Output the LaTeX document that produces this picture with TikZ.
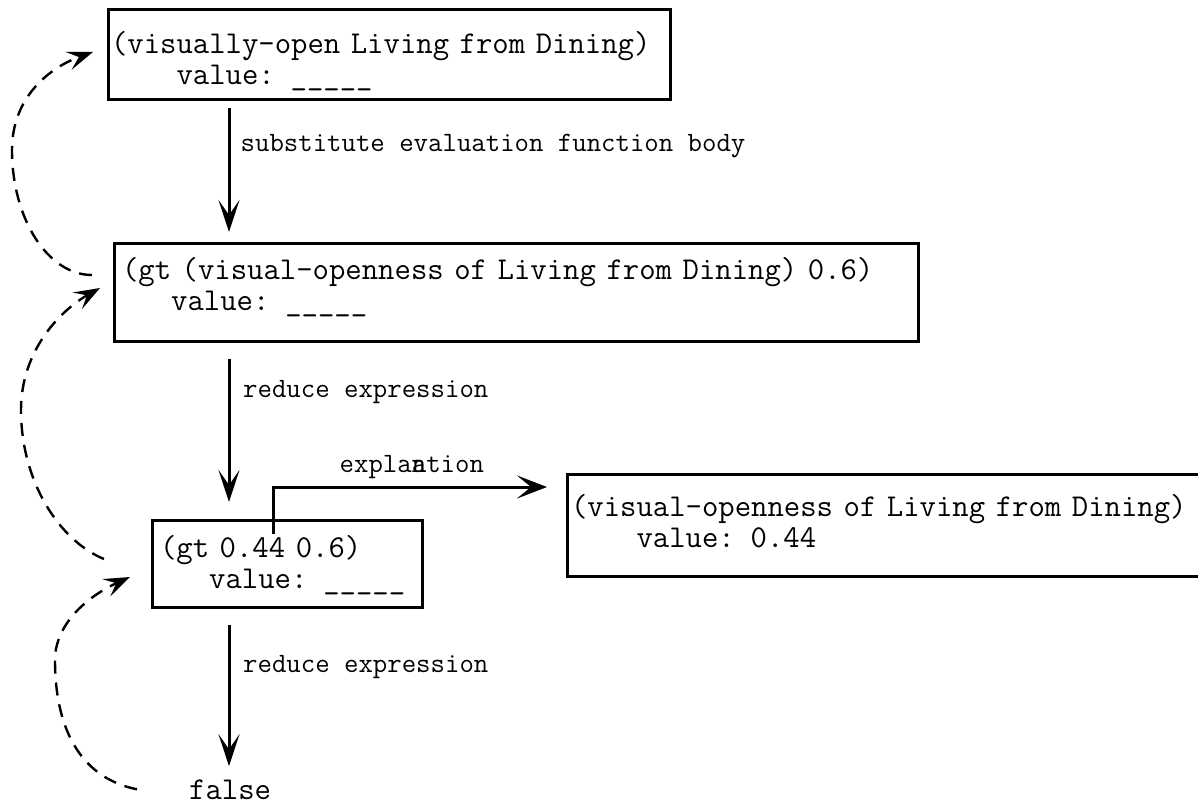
\documentclass[tikz,border=0pt]{standalone}
\usepackage{fontspec}
\usetikzlibrary{arrows.meta}
\newcommand\exprfont{\ttfamily\fontsize{31.8}{31}\selectfont
  \fontdimen2\font=\fontcharwd\font`0\relax\fontdimen3\font=0pt\relax\fontdimen4\font=0pt\relax}
\newcommand\notefont{\ttfamily\fontsize{28}{30}\selectfont}

\begin{document}
\begin{tikzpicture}[x=1pt,y=-1pt,
    expr/.style={draw,rectangle,line width=3pt,outer sep=0pt,anchor=north west,
      align=left,inner ysep=0pt,font=\exprfont},
    note/.style={anchor=base west,inner sep=0pt,font=\notefont},
    flow/.style={line width=3pt,-{Stealth[length=32pt,width=21pt,inset=15pt]}},
    recur/.style={line width=2.4pt,dash pattern=on 13pt off 9pt,
      -{Stealth[length=26pt,width=19pt,inset=11pt]}}]
  \useasboundingbox (0,0) rectangle (1198,805);
  \clip (0,0) rectangle (1198,805);
  \coordinate (spine) at (229,0);

  \node[expr,inner xsep=3pt,text width=556pt,text height=44pt,text depth=46pt] (open) at (108,10)
    {(visually-open Living from Dining)\\\hphantom{0000}value: \_\_\_\_\_};
  \node[expr,inner xsep=8pt,text width=788pt,text height=36pt,text depth=62pt] (gtexpr) at (114,243)
    {(gt (visual-openness of Living from Dining) 0.6)\\\hphantom{000}value: \_\_\_\_\_};
  \node[expr,inner xsep=8pt,text width=254pt,text height=37pt,text depth=50pt] (gtval) at (152,520)
    {(gt 0.44 0.6)\\\hphantom{000}value: \_\_\_\_\_};
  \node[expr,inner xsep=4pt,text width=642pt,text height=42pt,text depth=60pt] (lookup) at (567,474)
    {(visual-openness of Living from Dining)\\\hphantom{0000}value: 0.44};
  \node[note,font=\exprfont] (false) at (189,799) {false};

  \node[note] (subst) at (240.5,152) {substitute evaluation function body};
  \node[note] (reduce1) at (243,397) {reduce expression};
  \node[note] (expl) at (339.5,472) {expla\rlap{n}ation};
  \node[note] (reduce2) at (243,672) {reduce expression};

  \draw[flow,shorten <=8pt,shorten >=11pt] (open.south -| spine) -- (gtexpr.north -| spine);
  \draw[flow,shorten <=18pt,shorten >=18pt] (gtexpr.south -| spine) -- (gtval.north -| spine);
  \draw[flow,shorten <=18pt,shorten >=13pt] (gtval.south -| spine) -- (false.north -| spine);
  \draw[flow,-{Stealth[length=30pt,width=23pt,inset=14pt]}]
    ([xshift=121pt,yshift=-14pt]gtval.north west) |- ([xshift=-20pt,yshift=-13pt]lookup.north west);

  \draw[recur] ([xshift=-22pt,yshift=17pt]gtexpr.west) .. controls (48,275) and (12,219) .. (12,150)
    .. controls (12,96) and (51,67) .. ([xshift=-15pt,yshift=3pt]open.west);
  \draw[recur] ([xshift=-48pt,yshift=4.5pt]gtval.west) .. controls (58,540) and (21,480) .. (21,410)
    .. controls (21,350) and (61,310) .. ([xshift=-14pt,yshift=4pt]gtexpr.west);
  \draw[recur] ([xshift=-52pt]false.west) .. controls (85,779) and (55,735) .. (55,660)
    .. controls (55,625) and (86,597) .. ([xshift=-22pt,yshift=-13.5pt]gtval.west);
\end{tikzpicture}
\end{document}
